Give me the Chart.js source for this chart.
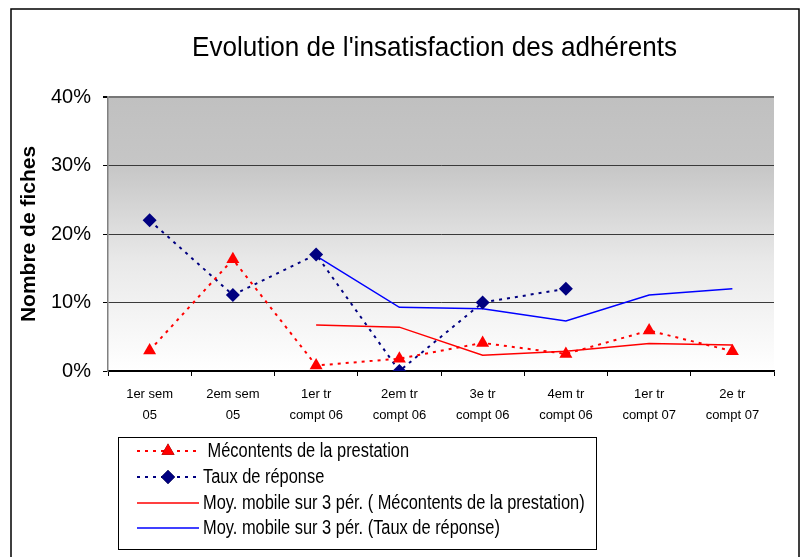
<!DOCTYPE html>
<html lang="fr">
<head>
  <meta charset="UTF-8">
  <title>Evolution de l'insatisfaction des adhérents</title>
  <style>
    html, body { margin: 0; padding: 0; background: #fff; }
    #cadre { position: relative; width: 803px; height: 557px; }
  </style>
  <script src="https://cdn.jsdelivr.net/npm/chart.js"></script>
</head>
<body>
<div id="cadre"><canvas id="graphique" width="803" height="557"></canvas></div>
<script>
  // Données (en %)
  const periodes = [
    ['1er sem', '05'], ['2em sem', '05'], ['1er tr', 'compt 06'], ['2em tr', 'compt 06'],
    ['3e tr', 'compt 06'], ['4em tr', 'compt 06'], ['1er tr', 'compt 07'], ['2e tr', 'compt 07']
  ];
  const mecontents = [3, 16.3, 0.8, 1.8, 4.1, 2.5, 5.9, 2.9];
  const tauxReponse = [22, 11.1, 17, 0, 10, 12, null, null];
  const moyMecontents = [null, null, 6.7, 6.4, 2.3, 2.9, 4.0, 3.8];
  const moyTaux = [null, null, 16.8, 9.3, 9.1, 7.3, 11.1, 12];
  const ticksY = [0, 10, 20, 30, 40];

  const police = '"Liberation Sans", Arial, sans-serif';

  // texte un peu resserré, comme le rendu d'origine
  function texteSerre(ctx, txt, x, y, sx) {
    ctx.save();
    ctx.translate(x, y);
    ctx.scale(sx, 1);
    ctx.fillText(txt, 0, 0);
    ctx.restore();
  }

  // fond dégradé de la zone de traçage + cadre extérieur + titre + légende
  const decor = {
    id: 'decor',
    beforeDraw(chart) {
      const { ctx, chartArea: a } = chart;
      ctx.save();
      const g = ctx.createLinearGradient(0, a.top, 0, a.bottom);
      g.addColorStop(0, '#c0c0c0');
      g.addColorStop(0.25, '#c6c6c6');
      g.addColorStop(0.6, '#e9e9e9');
      g.addColorStop(1, '#ffffff');
      ctx.fillStyle = g;
      ctx.fillRect(a.left, a.top, a.right - a.left, a.bottom - a.top);
      ctx.strokeStyle = '#000';
      ctx.lineWidth = 1.5;
      ctx.strokeRect(11, 9, 788, 560);
      ctx.fillStyle = '#000';
      ctx.font = '28px ' + police;
      ctx.textAlign = 'left';
      ctx.textBaseline = 'alphabetic';
      const t = "Evolution de l'insatisfaction des adhérents";
      const w = ctx.measureText(t).width;
      texteSerre(ctx, t, 192, 56, 485 / w);
      ctx.restore();
    },
    afterDraw(chart) {
      const { ctx } = chart;
      ctx.save();
      ctx.strokeStyle = '#000';
      ctx.lineWidth = 1;
      ctx.strokeRect(118.5, 437.5, 478, 112);
      ctx.font = '20px ' + police;
      ctx.textBaseline = 'middle';
      ctx.textAlign = 'left';
      const ys = [451, 477, 503, 528];
      chart.data.datasets.forEach((ds, i) => {
        const y = ys[i];
        ctx.strokeStyle = ds.borderColor;
        ctx.lineWidth = ds.borderWidth;
        ctx.setLineDash(ds.borderDash || []);
        ctx.beginPath();
        ctx.moveTo(137, y);
        ctx.lineTo(199, y);
        ctx.stroke();
        ctx.setLineDash([]);
        if (ds.pointRadius > 0) {
          Chart.helpers.drawPoint(ctx, {
            pointStyle: ds.pointStyle, radius: ds.pointRadius, borderWidth: 0
          }, 168, y);
          ctx.fillStyle = ds.backgroundColor;
          ctx.fill();
        }
        ctx.fillStyle = '#000';
        texteSerre(ctx, ds.label, i === 0 ? 203 : 203, y, 0.82);
      });
      ctx.restore();
    }
  };

  const ctx = document.getElementById('graphique').getContext('2d');
  new Chart(ctx, {
    type: 'line',
    data: {
      labels: periodes,
      datasets: [
        {
          label: ' Mécontents de la prestation',
          data: mecontents,
          borderColor: '#ff0000',
          backgroundColor: '#ff0000',
          borderWidth: 2,
          borderDash: [3, 5],
          pointStyle: 'triangle',
          pointRadius: 7.5,
          pointBorderWidth: 0,
          tension: 0
        },
        {
          label: 'Taux de réponse',
          data: tauxReponse,
          borderColor: '#000080',
          backgroundColor: '#000080',
          borderWidth: 2,
          borderDash: [3, 5],
          pointStyle: 'rectRot',
          pointRadius: 7,
          pointBorderWidth: 0,
          spanGaps: false,
          tension: 0
        },
        {
          label: 'Moy. mobile sur 3 pér. ( Mécontents de la prestation)',
          data: moyMecontents,
          borderColor: '#ff0000',
          backgroundColor: '#ff0000',
          borderWidth: 1.5,
          pointRadius: 0,
          tension: 0
        },
        {
          label: 'Moy. mobile sur 3 pér. (Taux de réponse)',
          data: moyTaux,
          borderColor: '#0000ff',
          backgroundColor: '#0000ff',
          borderWidth: 1.5,
          pointRadius: 0,
          tension: 0
        }
      ]
    },
    options: {
      responsive: false,
      animation: false,
      events: [],
      layout: { padding: { left: 0, top: 97, right: 29, bottom: 126 } },
      plugins: {
        legend: { display: false },
        title: { display: false },
        tooltip: { enabled: false }
      },
      scales: {
        x: {
          offset: true,
          afterFit(s) { s.height = 60; },
          grid: {
            offset: true,
            drawOnChartArea: false,
            color: '#000',
            tickLength: 5,
            tickColor: '#000'
          },
          border: { color: '#000', width: 1.5 },
          ticks: {
            color: '#000',
            font: { family: police, size: 13, lineHeight: 1.6 },
            padding: 8,
            maxRotation: 0,
            autoSkip: false
          }
        },
        y: {
          min: 0,
          max: 40,
          afterFit(s) { s.width = 108; },
          afterBuildTicks(s) { s.ticks = ticksY.map(v => ({ value: v })); },
          grid: {
            color: c => c.tick.value === 40 ? '#777777' : (c.tick.value === 0 ? '#000' : '#3a3a3a'),
            lineWidth: c => c.tick.value === 40 ? 2 : 1,
            tickLength: 5,
            tickColor: '#000'
          },
          border: { color: '#808080', width: 1.5 },
          ticks: {
            color: '#000',
            font: { family: police, size: 20 },
            padding: 12,
            callback: v => v + '%'
          },
          title: {
            display: true,
            text: 'Nombre de fiches',
            color: '#000',
            font: { family: police, size: 21, weight: 'bold' },
            padding: { top: 17, bottom: 0 }
          }
        }
      }
    },
    plugins: [decor]
  });
</script>
</body>
</html>
